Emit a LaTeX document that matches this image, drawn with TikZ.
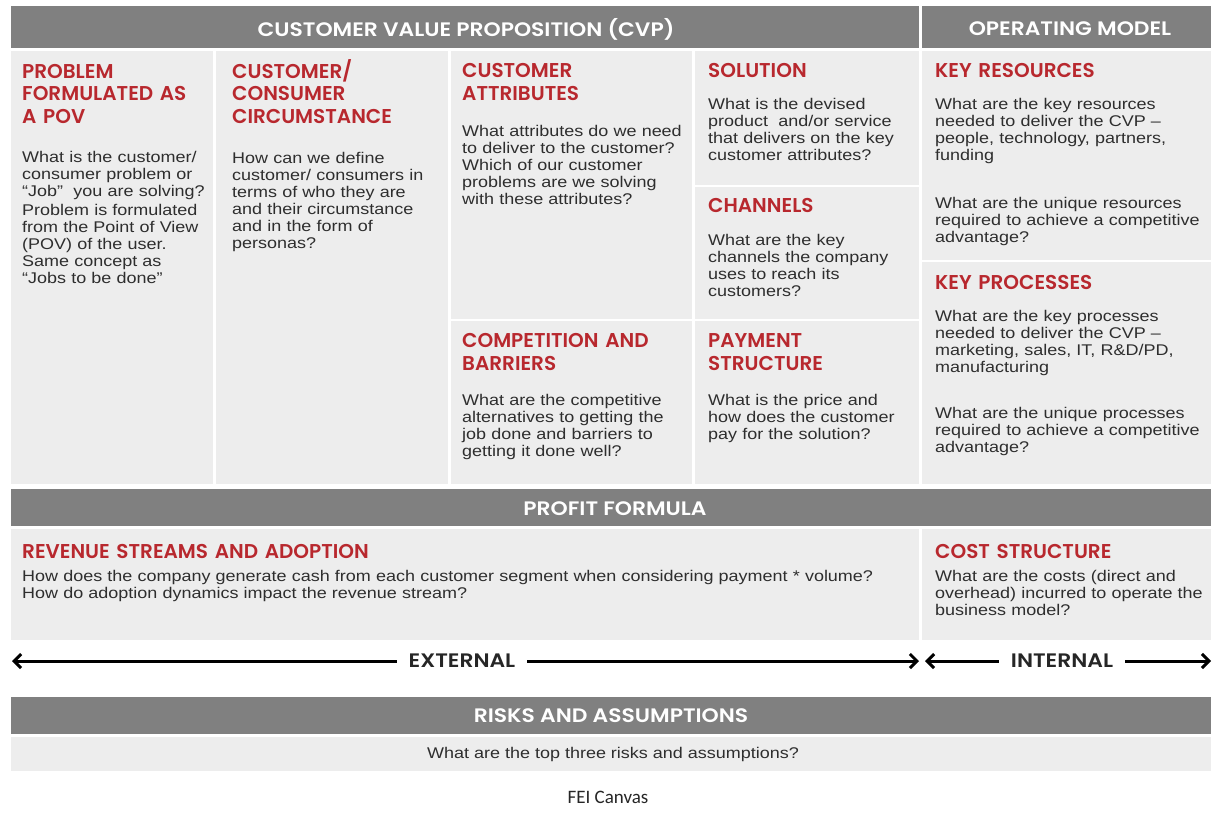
\documentclass[tikz,border=0pt]{standalone}
\usepackage{fontspec}
\setmainfont{Liberation Sans}[FakeStretch=1.16]
\newfontfamily\hdfont{Poppins}[BoldFont={Poppins SemiBold}]
\newfontfamily\barfont{Poppins}[FakeStretch=1.12,BoldFont={Poppins SemiBold}]
\newfontfamily\capfont{Carlito}
\usetikzlibrary{arrows.meta}
\definecolor{bar}{HTML}{808080}
\definecolor{panel}{HTML}{EDEDED}
\definecolor{hred}{HTML}{B8282E}
\definecolor{body}{HTML}{2E2E2E}
\tikzset{
  cell/.style={fill=panel,draw=white,line width=1.5pt},
  barbox/.style={fill=bar,draw=white,line width=1.5pt},
  bartext/.style={text=white,font=\barfont\bfseries\fontsize{19.5}{22}\selectfont,inner sep=0pt},
  head/.style={anchor=base west,inner sep=0pt,align=left,text width=300pt,text=hred,font=\hdfont\bfseries\fontsize{20}{23.5}\selectfont},
  txt/.style={anchor=base west,inner sep=0pt,align=left,text width=300pt,text=body,font=\fontsize{15.5}{17}\selectfont},
  arr/.style={line width=3pt,-{Straight Barb[length=7pt,width=14pt,line width=3pt]}},
  arrlabel/.style={font=\barfont\bfseries\fontsize{19.5}{22}\selectfont,text=black!85,inner sep=0pt}
}
\begin{document}
\begin{tikzpicture}[x=1pt,y=-1pt]
\useasboundingbox[fill=white] (0,0) rectangle (1215,812);
% header bars
\draw[barbox] (10,5) rectangle (920,49);
\draw[barbox] (921,5) rectangle (1212,49);
\node[bartext] (cvp) at (466,29) {CUSTOMER VALUE PROPOSITION (CVP)};
\node[bartext] (om) at (1070,29) {OPERATING MODEL};
% cells
\draw[cell] (10,50) rectangle (214,485);
\draw[cell] (215,50) rectangle (449,485);
\draw[cell] (450,50) rectangle (693,320);
\draw[cell] (450,320) rectangle (693,485);
\draw[cell] (694,50) rectangle (920,186);
\draw[cell] (694,186) rectangle (920,320);
\draw[cell] (694,320) rectangle (920,485);
\draw[cell] (921,50) rectangle (1212,261);
\draw[cell] (921,261) rectangle (1212,485);
% column 1
\node[head,font=\hdfont\bfseries\fontsize{20}{22.8}\selectfont] (h1) at (22,78) {PROBLEM\\FORMULATED AS\\A POV};
\node[txt] (t1a) at (22,162) {What is the customer/\\consumer problem or\\“Job”\ \ you are solving?};
\node[txt] (t1b) at (22,215) {Problem is formulated\\from the Point of View\\(POV) of the user.\\Same concept as\\“Jobs to be done”};
% column 2
\node[head,font=\hdfont\bfseries\fontsize{20}{22.8}\selectfont] (h2) at (232,78) {CUSTOMER/\\CONSUMER\\CIRCUMSTANCE};
\node[txt] (t2) at (232,163) {How can we define\\customer/ consumers in\\terms of who they are\\and their circumstance\\and in the form of\\personas?};
% column 3
\node[head] (h3) at (462,77) {CUSTOMER\\ATTRIBUTES};
\node[txt] (t3) at (462,136) {What attributes do we need\\to deliver to the customer?\\Which of our customer\\problems are we solving\\with these attributes?};
\node[head] (h3b) at (462,347) {COMPETITION AND\\BARRIERS};
\node[txt] (t3b) at (462,405) {What are the competitive\\alternatives to getting the\\job done and barriers to\\getting it done well?};
% column 4
\node[head] (h4) at (708,77) {SOLUTION};
\node[txt] (t4) at (708,109) {What is the devised\\product\ \ and/or service\\that delivers on the key\\customer attributes?};
\node[head] (h4b) at (708,212) {CHANNELS};
\node[txt] (t4b) at (708,245) {What are the key\\channels the company\\uses to reach its\\customers?};
\node[head] (h4c) at (708,347) {PAYMENT\\STRUCTURE};
\node[txt] (t4c) at (708,405) {What is the price and\\how does the customer\\pay for the solution?};
% column 5
\node[head] (h5) at (935,77) {KEY RESOURCES};
\node[txt] (t5a) at (935,109) {What are the key resources\\needed to deliver the CVP –\\people, technology, partners,\\funding};
\node[txt] (t5b) at (935,208) {What are the unique resources\\required to achieve a competitive\\advantage?};
\node[head] (h5b) at (935,289) {KEY PROCESSES};
\node[txt] (t5c) at (935,321) {What are the key processes\\needed to deliver the CVP –\\marketing, sales, IT, R\&D/PD,\\manufacturing};
\node[txt] (t5d) at (935,418) {What are the unique processes\\required to achieve a competitive\\advantage?};
% profit formula
\draw[barbox] (10,488) rectangle (1212,527);
\node[bartext] (pf) at (615,509) {PROFIT FORMULA};
\draw[cell] (10,528) rectangle (920,641);
\draw[cell] (921,528) rectangle (1212,641);
\node[head,text width=700pt] (h6) at (22,558) {REVENUE STREAMS AND ADOPTION};
\node[txt,text width=1000pt] (t6) at (22,581) {How does the company generate cash from each customer segment when considering payment * volume?\\How do adoption dynamics impact the revenue stream?};
\node[head] (h7) at (935,558) {COST STRUCTURE};
\node[txt] (t7) at (935,581) {What are the costs (direct and\\overhead) incurred to operate the\\business model?};
% arrows
\node[arrlabel] (ext) at (462,661) {EXTERNAL};
\node[arrlabel] (int) at (1062,661) {INTERNAL};
\coordinate (extL) at (12,661);
\coordinate (extR) at (919,661);
\coordinate (intL) at (925,661);
\coordinate (intR) at (1211,661);
\draw[arr] ([xshift=-12pt]ext.west) -- (extL);
\draw[arr] ([xshift=12pt]ext.east) -- (extR);
\draw[arr] ([xshift=-12pt]int.west) -- (intL);
\draw[arr] ([xshift=12pt]int.east) -- (intR);
% risks
\draw[barbox] (10,696) rectangle (1212,735);
\node[bartext] (ra) at (611,716) {RISKS AND ASSUMPTIONS};
\draw[cell] (10,736) rectangle (1212,772);
\node[txt,text width=,anchor=center] (t8) at (613,754) {What are the top three risks and assumptions?};
\node[font=\capfont\fontsize{19}{22}\selectfont,text=black!85,inner sep=0pt] (cap) at (608,797) {FEI Canvas};
\end{tikzpicture}
\end{document}
